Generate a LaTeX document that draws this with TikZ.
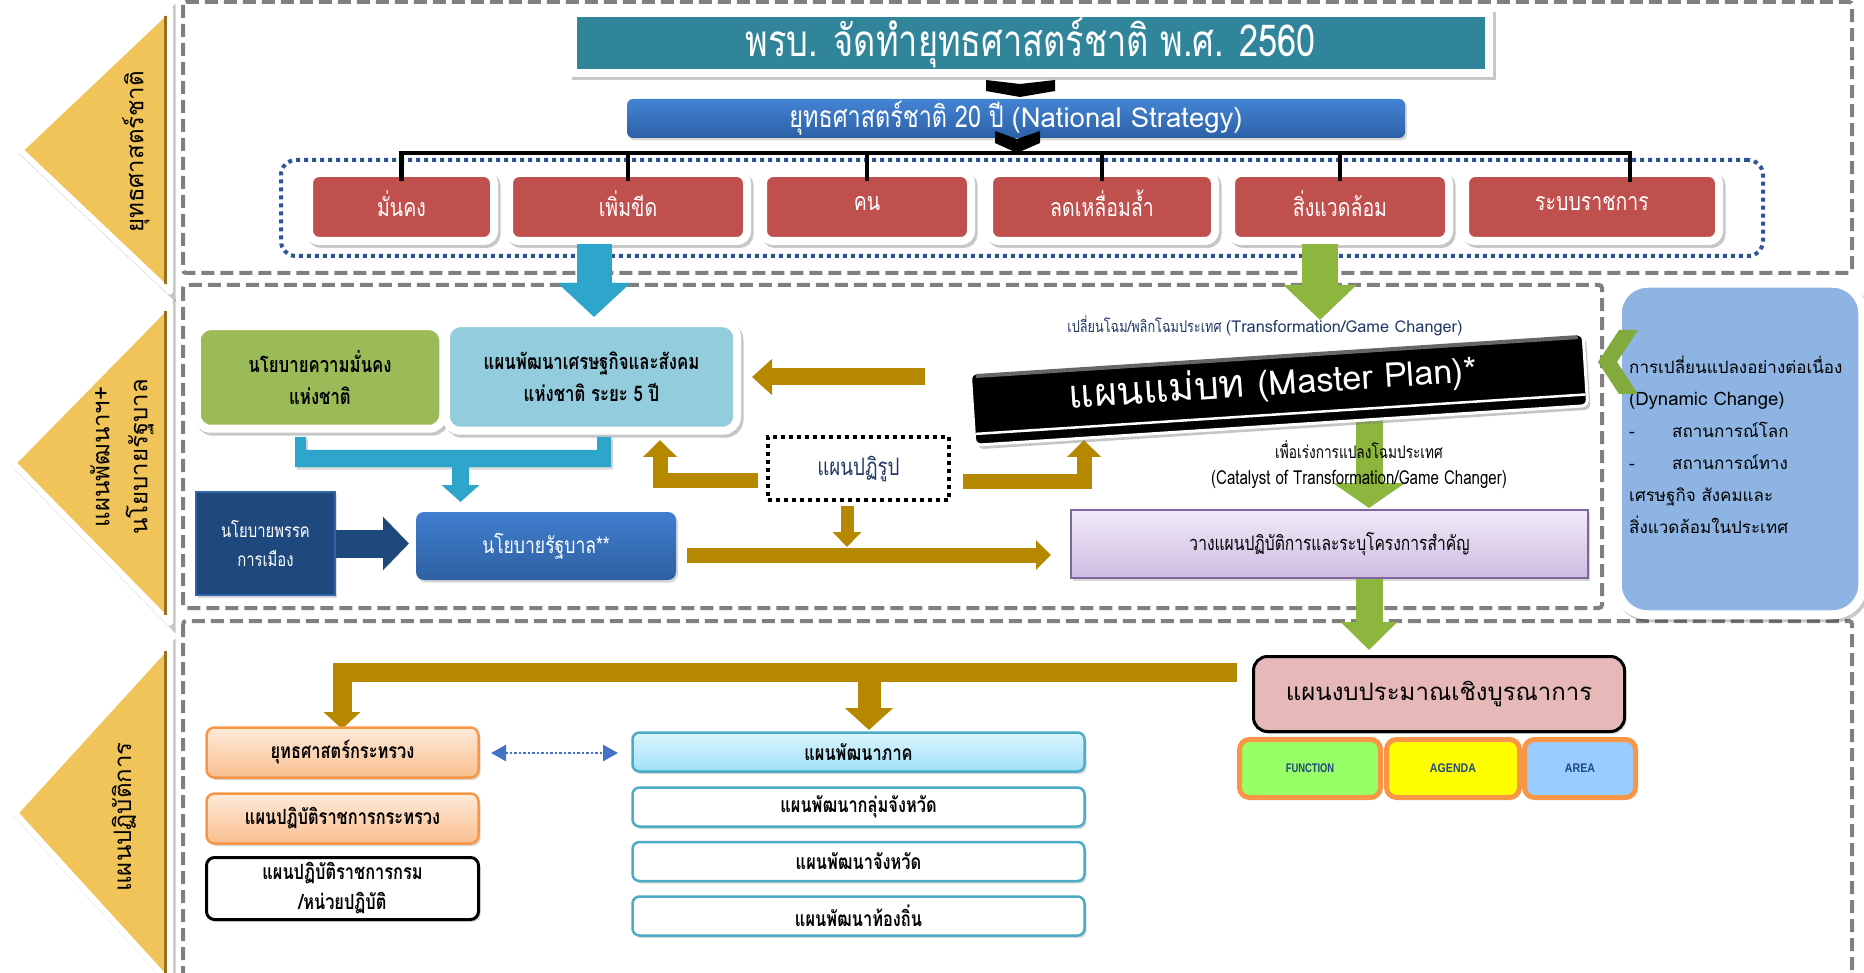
\documentclass[tikz,border=0pt]{standalone}
\usepackage{fontspec}
\setmainfont{Liberation Sans}
\newfontfamily\loma[Script=Thai]{Loma}
\newfontfamily\lomac[Script=Thai,FakeStretch=0.78]{Loma}
\newfontfamily\arialf{Liberation Sans}
\usetikzlibrary{arrows.meta,shadows,calc}
\newcommand\fsz[2]{\fontsize{#1}{#2}\selectfont}

\definecolor{dashgray}{RGB}{128,128,128}
\definecolor{triyel}{RGB}{240,196,88}
\definecolor{tridark}{RGB}{150,112,30}
\definecolor{ttl}{RGB}{49,133,155}
\definecolor{barTop}{RGB}{68,132,212}
\definecolor{barBot}{RGB}{44,96,166}
\definecolor{boxred}{RGB}{192,80,77}
\definecolor{dotblue}{RGB}{47,85,151}
\definecolor{cyanA}{RGB}{46,165,202}
\definecolor{greenA}{RGB}{140,182,62}
\definecolor{secgreen}{RGB}{155,187,89}
\definecolor{ltblue}{RGB}{147,205,221}
\definecolor{navybox}{RGB}{31,73,125}
\definecolor{navyedge}{RGB}{50,100,170}
\definecolor{govTop}{RGB}{64,126,206}
\definecolor{govBot}{RGB}{46,96,162}
\definecolor{gold}{RGB}{182,136,0}
\definecolor{navytext}{RGB}{31,56,100}
\definecolor{lavTop}{RGB}{241,234,247}
\definecolor{lavBot}{RGB}{206,188,226}
\definecolor{purpleb}{RGB}{128,100,162}
\definecolor{dynblue}{RGB}{141,180,226}
\definecolor{chevgreen}{RGB}{130,170,60}
\definecolor{orTop}{RGB}{253,234,218}
\definecolor{orBot}{RGB}{250,191,143}
\definecolor{orBorder}{RGB}{247,150,70}
\definecolor{cyTop}{RGB}{220,245,253}
\definecolor{cyBot}{RGB}{160,224,248}
\definecolor{cyBorder}{RGB}{75,172,198}
\definecolor{budpink}{RGB}{230,185,184}
\definecolor{fgreen}{RGB}{153,255,102}
\definecolor{fyellow}{RGB}{255,255,0}
\definecolor{fblue}{RGB}{153,204,255}
\definecolor{ftext}{RGB}{31,73,125}
\definecolor{dblue}{RGB}{68,114,196}

\tikzset{
  frame/.style={draw=dashgray,line width=4pt,dash pattern=on 13pt off 6pt,rounded corners=3pt},
  shad/.style={drop shadow={opacity=0.3,shadow xshift=2pt,shadow yshift=-2.5pt}},
  fshad/.style={preaction={draw=black,fill=black,opacity=0.22,line width=#1,transform canvas={xshift=2.5pt,yshift=-3pt}}},
  tri/.style={fill=triyel,draw=white,line width=6pt,line join=round,fshad=6pt},
  tridge/.style={draw=tridark,line width=3pt},
  trilab/.style={rotate=90,font=\loma\fsz{24}{38},align=center,inner sep=0pt},
  redbox/.style={fill=boxred,draw=white,line width=8pt,rounded corners=10pt,minimum height=68pt,text=white,font=\lomac\fsz{25}{28},inner sep=0pt,fshad=8pt},
  bracket/.style={draw=black,line width=4.5pt},
  goldarr/.style={draw=gold,line join=miter},
  orbox/.style={draw=orBorder,line width=2.5pt,top color=orTop,bottom color=orBot,rounded corners=8pt,minimum width=272pt,minimum height=50pt,inner sep=0pt,font=\lomac\bfseries\fsz{21}{30},align=center,shad},
  cybox/.style={draw=cyBorder,line width=2.5pt,fill=white,rounded corners=7pt,minimum width=452pt,minimum height=39pt,inner sep=0pt,font=\lomac\bfseries\fsz{21}{26},shad},
  fbox/.style={draw=orBorder,line width=5pt,rounded corners=10pt,minimum height=58pt,inner sep=0pt,text=ftext,font=\arialf\bfseries\fsz{12.5}{15}}
}

\begin{document}
\begin{tikzpicture}[x=1pt,y=-1pt]
\useasboundingbox (0,0) rectangle (1864,973);
\fill[white] (0,0) rectangle (1864,973);

% section frames
\draw[frame] (183,2) rectangle (1852,273);
\draw[frame] (183,285) rectangle (1602,608);
\draw[frame] (183,621) rectangle (1852,990);

% side triangles
\filldraw[tri] (170,8) -- (20,150) -- (170,292) -- cycle;
\draw[tridge] (165.5,16) -- (165.5,284);
\filldraw[tri] (170,303) -- (13,463) -- (170,623) -- cycle;
\draw[tridge] (165.5,311) -- (165.5,615);
\filldraw[tri] (170,643) -- (15,813) -- (170,983) -- cycle;
\draw[tridge] (165.5,651) -- (165.5,975);
\node[trilab] (lab1) at (136,152) {ยุทธศาสตร์ชาติ};
\node[trilab] (lab2) at (122,457) {แผนพัฒนาฯ+\\นโยบายรัฐบาล};
\node[trilab] (lab3) at (124,817) {แผนปฏิบัติการ};

% title
\node[draw=white,line width=8pt,fill=ttl,minimum width=916pt,minimum height=59.5pt,inner sep=0pt,text=white,font=\lomac\fsz{44}{48},fshad=8pt] (title) at (1031,43) {พรบ. จัดทำยุทธศาสตร์ชาติ พ.ศ. 2560};
\fill[black] (986,80) -- (1020,84) -- (1055,80) -- (1055,91) -- (1020,97) -- (986,91) -- cycle;

% national strategy bar
\node[rounded corners=6pt,top color=barTop,bottom color=barBot,minimum width=778pt,minimum height=39pt,inner sep=0pt,text=white,font=\lomac\fsz{30}{32},shad] (ns) at (1016,118.5) {ยุทธศาสตร์ชาติ 20 ปี {\loma\fsz{27.5}{32}(National Strategy)}};
\fill[black] (995,131) -- (1017,139) -- (1040,131) -- (1040,143) -- (1017,153) -- (995,143) -- cycle;

% strategy group
\node[draw=dotblue,line width=4pt,dash pattern=on 4pt off 4pt,rounded corners=15pt,minimum width=1482pt,minimum height=96pt] (grp) at (1022,208) {};
\node[redbox,minimum width=185pt] (r1) at (401.5,207) {\raisebox{7pt}{มั่นคง}};
\node[redbox,minimum width=238pt] (r2) at (628,207) {\raisebox{7pt}{เพิ่มขีด}};
\node[redbox,minimum width=208pt] (r3) at (867,207) {\raisebox{7pt}{คน}};
\node[redbox,minimum width=226pt] (r4) at (1102,207) {\raisebox{7pt}{ลดเหลื่อมล้ำ}};
\node[redbox,minimum width=218pt] (r5) at (1340,207) {\raisebox{7pt}{สิ่งแวดล้อม}};
\node[redbox,minimum width=254pt] (r6) at (1592,207) {\raisebox{7pt}{ระบบราชการ}};

\coordinate (brk) at (0,153);
\coordinate (c6) at (1630,182);
\draw[bracket] ($(r1.north)+(0,12)$) -- (r1.north |- brk) -- (c6 |- brk) -- (c6);
\foreach \r in {r2,r3,r4,r5} {\draw[bracket] (\r.north |- brk) -- ($(\r.north)+(0,12)$);}

% arrows from strategies
\coordinate (cyA) at (594,244);
\coordinate (cyB) at (594,317);
\draw[cyanA,line width=35pt,-{Triangle[width=71pt,length=34pt]}] (cyA) -- (cyB);
\coordinate (gnA) at (1320,244);
\coordinate (gnB) at (1320,320);
\draw[greenA,line width=36pt,-{Triangle[width=71pt,length=35pt]}] (gnA) -- (gnB);

% middle section
\node[fill=secgreen,draw=white,line width=8pt,rounded corners=14pt,minimum width=246.5pt,minimum height=102.5pt,inner sep=0pt,align=center,font=\lomac\bfseries\fsz{21.5}{32},fshad=8pt] (sec) at (320,377.5) {นโยบายความมั่นคง\\แห่งชาติ};
\node[fill=ltblue,draw=white,line width=8pt,rounded corners=14pt,minimum width=291pt,minimum height=107.5pt,inner sep=0pt,align=center,font=\lomac\bfseries\fsz{21.5}{32},fshad=8pt] (nesdp) at (591.5,377) {แผนพัฒนาเศรษฐกิจและสังคม\\แห่งชาติ ระยะ 5 ปี};

\fill[cyanA,shad] (295,437) -- (306,437) -- (306,450) -- (597,450) -- (597,437) -- (611,437) -- (611,467) -- (295,467) -- cycle;
\coordinate (cbA) at (460.5,466);
\coordinate (cbB) at (460.5,502);
\draw[cyanA,line width=17pt,-{Triangle[width=37pt,length=17pt]}] (cbA) -- (cbB);

\node[fill=navybox,draw=navyedge,line width=1.5pt,minimum width=139pt,minimum height=103pt,inner sep=0pt,align=center,text=white,font=\lomac\fsz{19}{29},shad] (party) at (265.5,543.5) {นโยบายพรรค\\การเมือง};
\coordinate (ptB) at (409,543.5);
\draw[navybox,line width=28pt,-{Triangle[width=52pt,length=26pt]}] (party.east) -- (ptB);
\node[rounded corners=8pt,top color=govTop,bottom color=govBot,minimum width=260pt,minimum height=68pt,inner sep=0pt,text=white,font=\lomac\fsz{22.5}{26},shad] (govt) at (546,546) {นโยบายรัฐบาล**};

\node[draw=black,line width=4pt,dash pattern=on 4pt off 4pt,minimum width=181pt,minimum height=63pt,inner sep=0pt,text=navytext,font=\lomac\fsz{24}{28}] (reform) at (858.5,468.5) {แผนปฏิรูป};

\coordinate (ga1s) at (925,377);
\coordinate (ga1e) at (752,377);
\draw[goldarr,line width=17pt,-{Triangle[width=35pt,length=20pt]}] (ga1s) -- (ga1e);
\coordinate (ga2s) at (758,480.5);
\coordinate (ga2e) at (660,440);
\draw[goldarr,line width=15pt,-{Triangle[width=33pt,length=17pt]}] (ga2s) -| (ga2e);
\coordinate (ga3s) at (963,481.5);
\coordinate (ga3e) at (1084,440);
\draw[goldarr,line width=15pt,-{Triangle[width=33pt,length=17pt]}] (ga3s) -| (ga3e);
\coordinate (ga4s) at (847,506);
\coordinate (ga4e) at (847,547);
\draw[goldarr,line width=13pt,-{Triangle[width=28pt,length=15pt]}] (ga4s) -- (ga4e);
\coordinate (ga5s) at (687,555);
\coordinate (ga5e) at (1051,555);
\draw[goldarr,line width=15pt,-{Triangle[width=29pt,length=15pt]}] (ga5s) -- (ga5e);

% master plan
\coordinate (gmA) at (1369,418);
\coordinate (gmB) at (1369,508);
\draw[greenA,line width=27pt,-{Triangle[width=71pt,length=25pt]}] (gmA) -- (gmB);
\node[fill=black,draw=white,line width=3pt,rounded corners=6pt,minimum width=614pt,minimum height=72pt,rotate=3.7,inner sep=0pt,drop shadow={opacity=0.45,shadow xshift=3pt,shadow yshift=-4pt}] (mp) at (1279,389.5) {};
\draw[black!60,line width=4pt,shorten <=7pt,shorten >=7pt] ($(mp.north west)!0.06!(mp.south west)$) -- ($(mp.north east)!0.06!(mp.south east)$);
\draw[white,line width=2.5pt,shorten <=3pt,shorten >=3pt] ($(mp.south west)!0.17!(mp.north west)$) -- ($(mp.south east)!0.17!(mp.north east)$);
\node[rotate=3.7,text=white,font=\loma\fsz{39}{46},inner sep=0pt] (mptext) at ($(mp.center)+(-6,-6)$) {แผนแม่บท {\fsz{34}{46}(Master Plan)*}};
\node[text=navytext,font=\lomac\fsz{16.3}{20},inner sep=0pt] (tl) at (1265,326) {เปลี่ยนโฉม/พลิกโฉมประเทศ {\loma\fsz{16.3}{20}(Transformation/Game Changer)}};
\node[align=center,font=\lomac\fsz{19.3}{26},inner sep=0pt] (cat) at (1359,465) {{\fsz{17.5}{26}เพื่อเร่งการแปลงโฉมประเทศ}\\(Catalyst of Transformation/Game Changer)};

\node[draw=purpleb,line width=2pt,top color=lavTop,bottom color=lavBot,minimum width=517pt,minimum height=68pt,inner sep=0pt,font=\lomac\fsz{20}{24},shad] (plan) at (1329.5,544) {วางแผนปฏิบัติการและระบุโครงการสำคัญ};
\coordinate (gpA) at (1369,579);
\coordinate (gpB) at (1369,650);
\draw[greenA,line width=27pt,-{Triangle[width=55pt,length=28pt]}] (gpA) -- (gpB);

% dynamic change box
\node[fill=dynblue,draw=white,line width=9pt,rounded corners=30pt,minimum width=245.5pt,minimum height=331.5pt,inner sep=0pt,fshad=9pt] (dyn) at (1740,449) {};
\node[anchor=north west,align=left,font=\loma\fsz{17}{32},inner sep=0pt] (dyntext) at (1629,356) {การเปลี่ยนแปลงอย่างต่อเนื่อง\\{\fsz{18.5}{32}(Dynamic Change)}\\\makebox[43pt][l]{-}สถานการณ์โลก\\\makebox[43pt][l]{-}สถานการณ์ทาง\\เศรษฐกิจ สังคมและ\\สิ่งแวดล้อมในประเทศ};
\fill[chevgreen] (1619,330) -- (1638,330) -- (1617,362) -- (1638,394) -- (1619,394) -- (1598,362) -- cycle;

% bottom section
\coordinate (gb0) at (1237,672.5);
\coordinate (gbL) at (342,729);
\coordinate (gbM0) at (869,672.5);
\coordinate (gbM) at (869,730);
\draw[goldarr,line width=19pt,-{Triangle[width=36pt,length=17pt]}] (gb0) -| (gbL);
\draw[goldarr,line width=23pt,-{Triangle[width=47pt,length=22pt]}] (gbM0) -- (gbM);

\node[orbox] (o1) at (342.5,752.5) {ยุทธศาสตร์กระทรวง};
\node[orbox] (o2) at (342.5,818.5) {แผนปฏิบัติราชการกระทรวง};
\node[orbox,draw=black,line width=3pt,fill=white,top color=white,bottom color=white,minimum height=62pt] (o3) at (342.5,888.5) {แผนปฏิบัติราชการกรม\\/หน่วยปฏิบัติ};

\coordinate (daL) at (491,753);
\coordinate (daR) at (618,753);
\draw[dblue,line width=2.5pt,dash pattern=on 2.5pt off 2pt,{Triangle[width=16pt,length=15pt]}-{Triangle[width=16pt,length=15pt]}] (daL) -- (daR);

\node[cybox,top color=cyTop,bottom color=cyBot] (p1) at (858.5,752) {แผนพัฒนาภาค};
\node[cybox] (p2) at (858.5,807) {แผนพัฒนากลุ่มจังหวัด};
\node[cybox] (p3) at (858.5,861.5) {แผนพัฒนาจังหวัด};
\node[cybox] (p4) at (858.5,916) {แผนพัฒนาท้องถิ่น};

\node[fill=budpink,draw=black,line width=3pt,rounded corners=14pt,minimum width=371pt,minimum height=75pt,inner sep=0pt,font=\loma\fsz{24}{28},shad] (budget) at (1439,694) {แผนงบประมาณเชิงบูรณาการ};
\node[fbox,fill=fgreen,minimum width=141pt] (fn) at (1310,768.5) {\scalebox{0.75}[1]{FUNCTION}};
\node[fbox,fill=fyellow,minimum width=133pt] (ag) at (1453,768.5) {\scalebox{0.85}[1]{AGENDA}};
\node[fbox,fill=fblue,minimum width=111pt] (ar) at (1580,768.5) {\scalebox{0.85}[1]{AREA}};
\end{tikzpicture}
\end{document}
